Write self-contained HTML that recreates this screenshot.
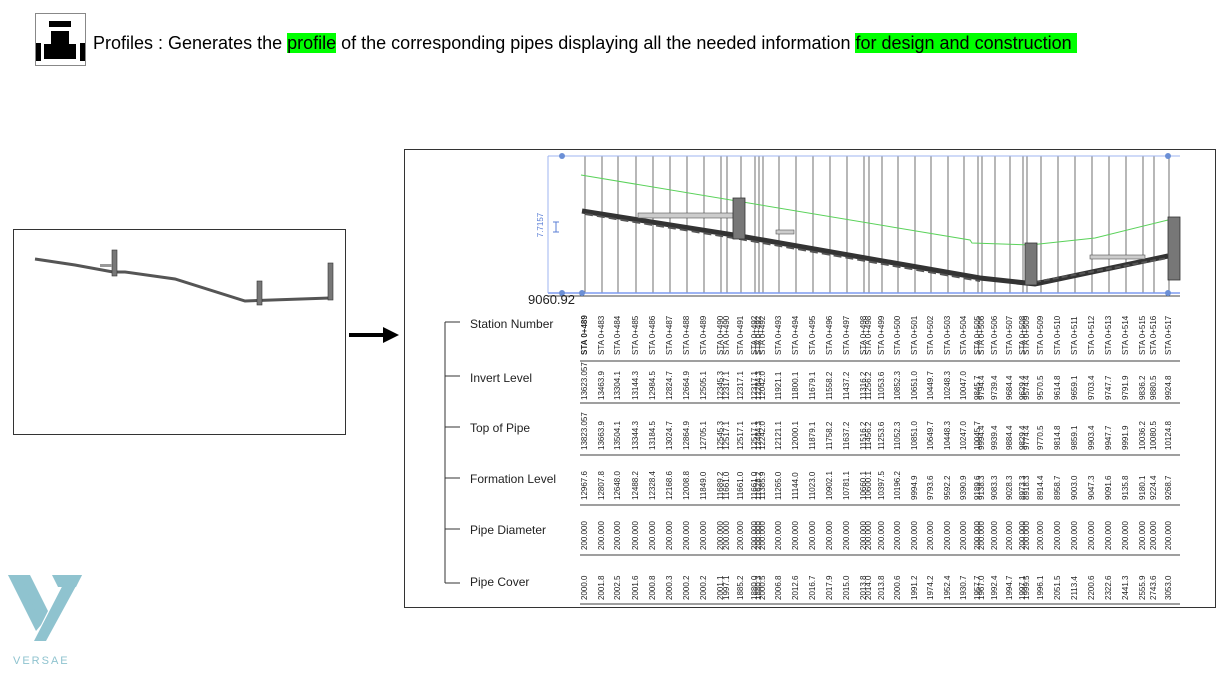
<!DOCTYPE html>
<html><head><meta charset="utf-8"><style>
body{margin:0;width:1222px;height:673px;background:#fff;position:relative;overflow:hidden;font-family:"Liberation Sans",sans-serif}
.h{position:absolute;left:93px;top:33px;font-size:18px;color:#000;white-space:pre}
.g{background:#00ff00}
.v{position:absolute;writing-mode:vertical-rl;transform:rotate(180deg);font-size:8px;color:#222;white-space:nowrap;font-family:"Liberation Sans",sans-serif}
.rl{position:absolute;left:470px;font-size:12px;color:#222}
</style></head><body>
<div style="position:absolute;left:35px;top:13px;width:49px;height:51px;border:1px solid #888;background:#fff">
<div style="position:absolute;left:13px;top:7px;width:22px;height:6px;background:#000"></div>
<div style="position:absolute;left:15px;top:17px;width:18px;height:14px;background:#000"></div>
<div style="position:absolute;left:8px;top:30px;width:32px;height:15px;background:#000"></div>
<div style="position:absolute;left:0;top:29px;width:5px;height:18px;background:#000"></div>
<div style="position:absolute;right:0;top:29px;width:5px;height:18px;background:#000"></div>
</div>
<div class="h">Profiles : Generates the <span class="g">profile</span> of the corresponding pipes displaying all the needed information <span class="g">for design and construction </span></div>

<div style="position:absolute;left:13px;top:229px;width:331px;height:204px;border:1px solid #333"></div>
<svg style="position:absolute;left:0;top:0" width="1222" height="673">
<polyline points="35,259 75,265 113,272 125,272 175,279 245,301 330,298" fill="none" stroke="#555" stroke-width="3"/>
<rect x="112" y="250" width="5" height="26" fill="#777" stroke="#333" stroke-width=".6"/>
<rect x="100" y="264" width="12" height="3" fill="#999"/>
<rect x="257" y="281" width="5" height="24" fill="#777" stroke="#333" stroke-width=".6"/>
<rect x="328" y="263" width="5" height="37" fill="#777" stroke="#333" stroke-width=".6"/>
<line x1="349" y1="335" x2="385" y2="335" stroke="#000" stroke-width="4"/>
<polygon points="383,327 399,335 383,343" fill="#000"/>
</svg>

<div style="position:absolute;left:404px;top:149px;width:810px;height:457px;border:1px solid #333"></div>
<svg style="position:absolute;left:0;top:0" width="1222" height="673" id="ch">
<line x1="548" y1="156" x2="1180" y2="156" stroke="#9fb4f0" stroke-width="1"/>
<line x1="548" y1="293" x2="1180" y2="293" stroke="#7f9cf0" stroke-width="1.5"/>
<line x1="548" y1="296" x2="1180" y2="296" stroke="#444" stroke-width="1"/>
<line x1="548" y1="156" x2="548" y2="293" stroke="#9fb4f0"/>
<circle cx="562" cy="156" r="3" fill="#6b8fd6"/><circle cx="562" cy="293" r="3" fill="#6b8fd6"/><circle cx="582" cy="293" r="3" fill="#6b8fd6"/><circle cx="1168" cy="156" r="3" fill="#6b8fd6"/><circle cx="1168" cy="293" r="3" fill="#6b8fd6"/>
<text x="543" y="225" font-size="8" fill="#5b7fd6" transform="rotate(-90 543 225)" text-anchor="middle" font-family="Liberation Sans">7.7157</text>
<path d="M553 222h6M556 222v10M553 232h6" stroke="#5b7fd6" fill="none"/>
<polyline points="581,175 970,240 972,243 1030,245 1095,238 1168,220" fill="none" stroke="#5ad25a" stroke-width="1"/>
<polyline points="582,211 740,236 980,278 1035,284 1168,256" fill="none" stroke="#333" stroke-width="5"/>
<polyline points="585,214 740,239 980,281" fill="none" stroke="#555" stroke-width="2" stroke-dasharray="8,4"/>
<polyline points="1035,282 1168,258" fill="none" stroke="#555" stroke-width="2" stroke-dasharray="6,3"/>
<rect x="638" y="213" width="95" height="5" fill="#ccc" stroke="#555" stroke-width=".6"/>
<rect x="776" y="230" width="18" height="4" fill="#ccc" stroke="#555" stroke-width=".6"/>
<rect x="1090" y="255" width="55" height="4" fill="#ccc" stroke="#555" stroke-width=".6"/>
<rect x="733" y="198" width="12" height="41" fill="#777" stroke="#333" stroke-width=".8"/>
<rect x="1025" y="243" width="12" height="42" fill="#777" stroke="#333" stroke-width=".8"/>
<rect x="1168" y="217" width="12" height="63" fill="#777" stroke="#333" stroke-width=".8"/>
<text x="528" y="304" font-size="13" fill="#222" font-family="Liberation Sans">9060.92</text>
<g stroke="#666" stroke-width="1.2">
<line x1="580" y1="361" x2="1180" y2="361"/><line x1="580" y1="403" x2="1180" y2="403"/><line x1="580" y1="455" x2="1180" y2="455"/><line x1="580" y1="505" x2="1180" y2="505"/><line x1="580" y1="555" x2="1180" y2="555"/><line x1="580" y1="604" x2="1180" y2="604"/>
</g>
<g stroke="#333" stroke-width="1">
<line x1="445" y1="322" x2="445" y2="583"/>
<line x1="445" y1="322" x2="460" y2="322"/><line x1="445" y1="376" x2="460" y2="376"/><line x1="445" y1="427" x2="460" y2="427"/><line x1="445" y1="478" x2="460" y2="478"/><line x1="445" y1="529" x2="460" y2="529"/><line x1="445" y1="583" x2="460" y2="583"/>
</g>
</svg>
<div class="rl" style="top:317px">Station Number</div>
<div class="rl" style="top:371px">Invert Level</div>
<div class="rl" style="top:421px">Top of Pipe</div>
<div class="rl" style="top:472px">Formation Level</div>
<div class="rl" style="top:523px">Pipe Diameter</div>
<div class="rl" style="top:575px">Pipe Cover</div>
<div id="cols"></div>

<div style="position:absolute;left:8px;top:573px;width:76px;height:70px">
<svg width="76" height="70">
<polygon points="0,2 22,2 40,38 33,52" fill="#8fc3cf"/>
<polygon points="0,2 13,2 33,52 28,58" fill="#8fc3cf"/>
<polygon points="44,2 74,2 68,14 50,14" fill="#8fc3cf"/>
<polygon points="60,2 74,2 38,68 26,68" fill="#8fc3cf"/>
</svg>
</div>
<div style="position:absolute;left:13px;top:655px;font-size:11px;letter-spacing:2px;color:#8fc3cf">VERSAE</div>

<script>
var d=[
[581,"STA 0+489","13623.057","13823.057","12967.6","200.000","2000.0",1],
[598,"STA 0+483","13463.9","13663.9","12807.8","200.000","2001.8"],
[614,"STA 0+484","13304.1","13504.1","12648.0","200.000","2002.5"],
[632,"STA 0+485","13144.3","13344.3","12488.2","200.000","2001.6"],
[649,"STA 0+486","12984.5","13184.5","12328.4","200.000","2000.8"],
[666,"STA 0+487","12824.7","13024.7","12168.6","200.000","2000.3"],
[683,"STA 0+488","12664.9","12864.9","12008.8","200.000","2000.2"],
[700,"STA 0+489","12505.1","12705.1","11849.0","200.000","2000.2"],
[717,"STA 0+490","12345.3","12545.3","11689.2","200.000","2001.1"],
[723,"STA 0+490","12317.1","12517.1","11661.0","200.000","1997.1"],
[737,"STA 0+491","12317.1","12517.1","11661.0","200.000","1885.2"],
[751,"STA 0+492","12317.1","12517.1","11661.0","200.000","1880.0"],
[755,"STA 0+492","12284.3","12484.3","11628.2","200.000","1880.3"],
[759,"STA 0+492","12042.0","12242.0","11385.9","200.000","2000.5"],
[775,"STA 0+493","11921.1","12121.1","11265.0","200.000","2006.8"],
[792,"STA 0+494","11800.1","12000.1","11144.0","200.000","2012.6"],
[809,"STA 0+495","11679.1","11879.1","11023.0","200.000","2016.7"],
[826,"STA 0+496","11558.2","11758.2","10902.1","200.000","2017.9"],
[843,"STA 0+497","11437.2","11637.2","10781.1","200.000","2015.0"],
[860,"STA 0+498","11316.2","11516.2","10660.1","200.000","2013.8"],
[865,"STA 0+498","11256.2","11456.2","10600.1","200.000","2014.0"],
[878,"STA 0+499","11053.6","11253.6","10397.5","200.000","2013.8"],
[894,"STA 0+500","10852.3","11052.3","10196.2","200.000","2000.6"],
[911,"STA 0+501","10651.0","10851.0","9994.9","200.000","1991.2"],
[927,"STA 0+502","10449.7","10649.7","9793.6","200.000","1974.2"],
[944,"STA 0+503","10248.3","10448.3","9592.2","200.000","1952.4"],
[960,"STA 0+504","10047.0","10247.0","9390.9","200.000","1930.7"],
[974,"STA 0+505","9845.7","10045.7","9189.6","200.000","1957.7"],
[978,"STA 0+506","9794.4","9994.4","9138.3","200.000","1967.0"],
[991,"STA 0+506","9739.4","9939.4","9083.3","200.000","1992.4"],
[1006,"STA 0+507","9684.4","9884.4","9028.3","200.000","1994.7"],
[1019,"STA 0+508","9629.4","9829.4","8973.3","200.000","1997.1"],
[1023,"STA 0+509","9574.4","9774.4","8918.3","200.000","1999.5"],
[1037,"STA 0+509","9570.5","9770.5","8914.4","200.000","1996.1"],
[1054,"STA 0+510","9614.8","9814.8","8958.7","200.000","2051.5"],
[1071,"STA 0+511","9659.1","9859.1","9003.0","200.000","2113.4"],
[1088,"STA 0+512","9703.4","9903.4","9047.3","200.000","2200.6"],
[1105,"STA 0+513","9747.7","9947.7","9091.6","200.000","2322.6"],
[1122,"STA 0+514","9791.9","9991.9","9135.8","200.000","2441.3"],
[1139,"STA 0+515","9836.2","10036.2","9180.1","200.000","2555.9"],
[1150,"STA 0+516","9880.5","10080.5","9224.4","200.000","2743.6"],
[1165,"STA 0+517","9924.8","10124.8","9268.7","200.000","3053.0"]];
var ys=[[307,355],[365,400],[410,450],[460,500],[510,550],[560,600]];
var h="",s="";
d.forEach(function(r){
 s+='<line x1="'+(r[0]+4)+'" y1="156" x2="'+(r[0]+4)+'" y2="293" stroke="#333" stroke-width="0.7"/>';
 for(var i=0;i<6;i++){
  h+='<div class="v" style="left:'+(r[0]-1)+'px;top:'+ys[i][0]+'px;height:'+(ys[i][1]-ys[i][0])+'px;text-align:left'+(r[7]&&i==0?';font-weight:bold':'')+'">'+r[i+1]+'</div>';
 }
});
document.getElementById('cols').innerHTML=h;
document.getElementById('ch').insertAdjacentHTML('afterbegin',s);
</script>
</body></html>
